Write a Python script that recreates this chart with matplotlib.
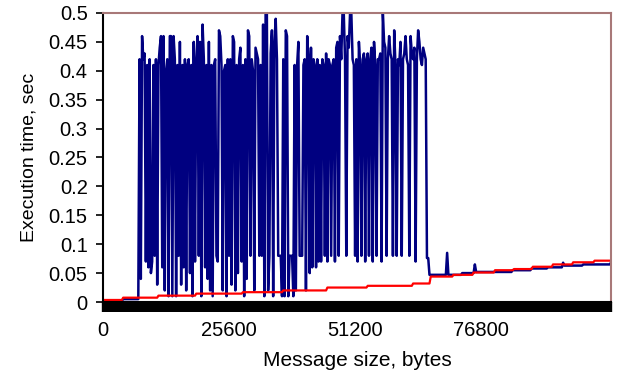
import numpy as np
import matplotlib
matplotlib.use("Agg")
import matplotlib.pyplot as plt
from matplotlib.ticker import FixedLocator, MultipleLocator, FuncFormatter

plt.rcParams['font.family'] = ['Liberation Sans', 'DejaVu Sans']

# message sizes grow in steps of 256 bytes (category axis)
step_bytes = 256
n_points = 404

# blue series: quiet start, noisy middle, quiet tail (value, run length)
blue_head = [(0.002, 16), (0.005, 13)]
blue_noisy = [
    0.42, 0.04, 0.46, 0.42, 0.43, 0.07, 0.41, 0.06, 0.42, 0.05, 0.07, 0.41,
    0.08, 0.42, 0.03, 0.41, 0.44, 0.46, 0.06, 0.46, 0.02, 0.40, 0.42, 0.01,
    0.46, 0.46, 0.01, 0.46, 0.42, 0.01, 0.41, 0.08, 0.45, 0.03, 0.41, 0.06,
    0.42, 0.02, 0.41, 0.42, 0.05, 0.41, 0.01, 0.45, 0.07, 0.42, 0.46, 0.08,
    0.45, 0.01, 0.48, 0.42, 0.06, 0.41, 0.04, 0.45, 0.02, 0.41, 0.01, 0.41,
    0.42, 0.08, 0.07, 0.47, 0.46, 0.41, 0.02, 0.40, 0.41, 0.01, 0.42, 0.08,
    0.42, 0.03, 0.46, 0.45, 0.02, 0.41, 0.05, 0.42, 0.44, 0.07, 0.41, 0.01,
    0.42, 0.04, 0.47, 0.46, 0.08, 0.42, 0.40, 0.02, 0.44, 0.43, 0.42, 0.08,
    0.41, 0.08, 0.48, 0.01, 0.50, 0.50, 0.02, 0.08, 0.43, 0.47, 0.01, 0.45,
    0.49, 0.42, 0.08, 0.08, 0.08, 0.01, 0.42, 0.01, 0.47, 0.46, 0.01, 0.08,
    0.08, 0.08, 0.01, 0.41, 0.02, 0.41, 0.45, 0.08, 0.08, 0.08, 0.41, 0.42, 0.02,
    0.46, 0.42, 0.05, 0.44, 0.06, 0.42, 0.41, 0.06, 0.42, 0.07, 0.41,
    0.07, 0.42, 0.41, 0.08, 0.43, 0.07, 0.42, 0.41, 0.08, 0.41, 0.42, 0.07,
    0.44, 0.45, 0.08, 0.46, 0.42, 0.50, 0.50, 0.42, 0.08, 0.46, 0.44, 0.50,
    0.50, 0.42, 0.41, 0.08, 0.42, 0.07, 0.45, 0.41, 0.08, 0.42, 0.43, 0.07,
    0.42, 0.43, 0.08, 0.42, 0.44, 0.07, 0.45, 0.41, 0.08, 0.42, 0.42, 0.43,
    0.07, 0.50, 0.45, 0.44, 0.08, 0.42, 0.46, 0.43, 0.42, 0.08, 0.47, 0.41,
    0.08, 0.42, 0.41, 0.45, 0.08, 0.42, 0.43, 0.46, 0.42, 0.41, 0.08, 0.46,
    0.43, 0.42, 0.44, 0.07, 0.42, 0.47, 0.45, 0.42, 0.41, 0.44, 0.43, 0.42,
]
blue_tail = [(0.076, 2), (0.047, 14), (0.085, 1), (0.047, 11), (0.050, 10),
             (0.065, 1), (0.052, 29), (0.055, 15), (0.058, 13), (0.060, 12),
             (0.068, 1), (0.063, 15), (0.065, 22), (0.068, 1)]

# red series: staircase (value, run length)
red_runs = [(0.0035, 16), (0.0075, 28), (0.011, 30), (0.0145, 37), (0.017, 32),
            (0.020, 35), (0.025, 32), (0.028, 36), (0.032, 14), (0.044, 18),
            (0.047, 16), (0.051, 17), (0.055, 15), (0.057, 15), (0.061, 16),
            (0.065, 16), (0.0687, 17), (0.0715, 14)]

x_tick_idx = [0, 100, 200, 300]
x_tick_labels = [str(i * step_bytes) for i in x_tick_idx]


def expand(runs):
    return [v for v, n in runs for _ in range(n)]


blue = np.array(expand(blue_head) + blue_noisy + expand(blue_tail))
red = np.array(expand(red_runs))
idx = np.arange(n_points)

fig = plt.figure(figsize=(6.21, 3.84), dpi=100)
ax = fig.add_axes([103 / 621, 82 / 384, 508 / 621, 289 / 384])

ax.plot(idx, blue, color='#000080', lw=1.8)
ax.plot(idx, red, color='#ff0000', lw=1.6)

ax.set_xlim(0, n_points - 1)
ax.set_ylim(0, 0.5)

ax.yaxis.set_major_locator(MultipleLocator(0.05))
ax.yaxis.set_major_formatter(FuncFormatter(lambda v, p: ('%.2f' % v).rstrip('0').rstrip('.')))
ax.xaxis.set_major_locator(FixedLocator(x_tick_idx))
ax.set_xticklabels(x_tick_labels)
ax.xaxis.set_minor_locator(FixedLocator(idx))

ax.tick_params(axis='y', direction='out', length=5, width=1.2, labelsize=14.5, pad=6)
ax.tick_params(axis='x', which='both', direction='out', length=7.5, width=1.7,
               labelsize=14.5, pad=6)

for side in ('left', 'bottom'):
    ax.spines[side].set_color('black')
    ax.spines[side].set_linewidth(1.5)
for side in ('top', 'right'):
    ax.spines[side].set_color('#a87878')
    ax.spines[side].set_linewidth(1.5)

ax.set_xlabel('Message size, bytes', fontsize=15, labelpad=8)
ax.set_ylabel('Execution time, sec', fontsize=14, labelpad=8)

fig.savefig('out.png', dpi=100)
